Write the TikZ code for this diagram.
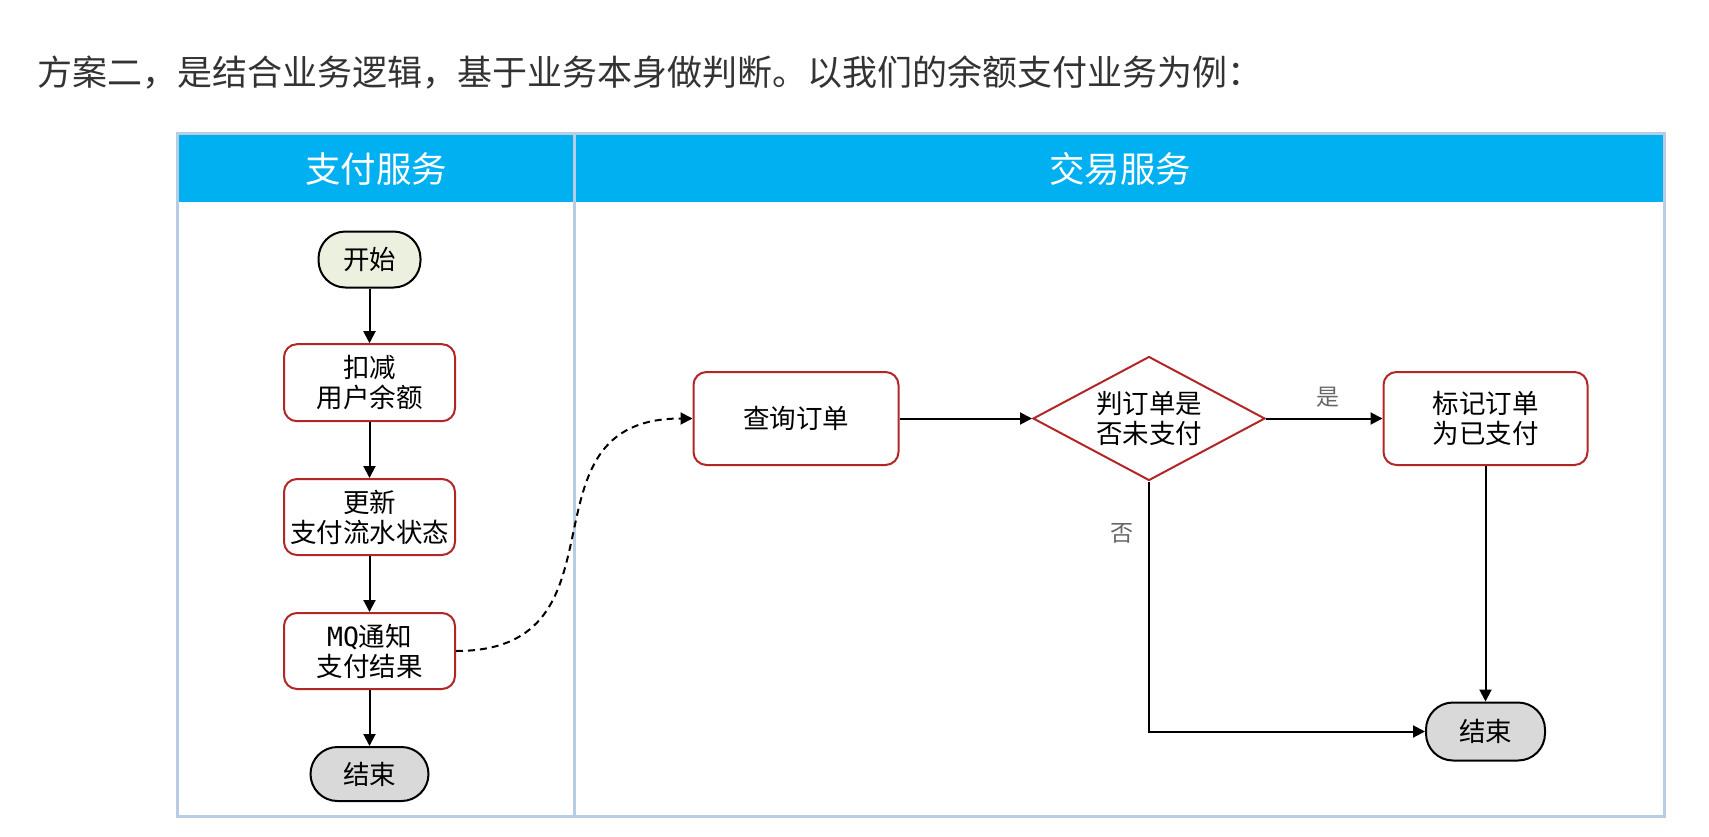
\documentclass[tikz,border=0pt]{standalone}
\usepackage{fontspec}
\setmainfont{Noto Sans CJK SC}
\newfontfamily\mqfont{DejaVu Sans Mono}
\usetikzlibrary{arrows.meta,positioning,shapes.geometric}
\definecolor{laneblue}{RGB}{184,204,228}
\definecolor{headcyan}{RGB}{0,176,240}
\definecolor{boxred}{RGB}{178,38,38}
\definecolor{startfill}{RGB}{236,240,223}
\definecolor{endfill}{RGB}{217,217,217}
\definecolor{titlegray}{RGB}{51,51,51}
\definecolor{labelgray}{RGB}{102,102,102}
\tikzset{
  stepbox/.style={draw=boxred, line width=2pt, rounded corners=13pt, fill=white,
    align=center, inner sep=0pt, font=\fontsize{26.5}{30}\selectfont},
  termbox/.style={draw=black, line width=2pt, rounded corners=27pt, inner sep=0pt,
    font=\fontsize{26.5}{30}\selectfont},
  flowarrow/.style={line width=2pt, -{Triangle[length=12pt,width=12pt]}},
  edgelabel/.style={text=labelgray, inner sep=0pt, font=\fontsize{23}{26}\selectfont}
}
\begin{document}
\begin{tikzpicture}[x=1pt, y=-1pt]
  \useasboundingbox (0,0) rectangle (1709,836);
  % title
  \node[anchor=west, inner sep=0pt, text=titlegray, font=\fontsize{35}{40}\selectfont] (title) at (37,72)
    {方案二，是结合业务逻辑，基于业务本身做判断。以我们的余额支付业务为例：};
  % lanes
  \fill[headcyan] (177,133) rectangle (1664,202);
  \draw[laneblue, line width=3pt] (177,133) rectangle (1664,816.5);
  \draw[laneblue, line width=3pt] (574,133) -- (574,816.5);
  \node[text=white, font=\fontsize{35.5}{40}\selectfont] (paylane) at (376,169) {支付服务};
  \node[text=white, font=\fontsize{35.5}{40}\selectfont] (tradelane) at (1120,169) {交易服务};
  % payment service
  \node[termbox, fill=startfill, minimum width=102pt, minimum height=56pt] (start) at (369.5,259.5) {开始};
  \node[stepbox, minimum width=171pt, minimum height=77pt, below=54.7pt of start] (deduct) {扣减\\用户余额};
  \node[stepbox, minimum width=171pt, minimum height=76pt, below=55.8pt of deduct] (update) {更新\\支付流水状态};
  \node[stepbox, minimum width=171pt, minimum height=76pt, below=56pt of update] (notify) {{\mqfont MQ}通知\\支付结果};
  \node[termbox, fill=endfill, minimum width=118pt, minimum height=54pt, below=56pt of notify] (payend) {结束};
  % trade service
  \node[stepbox, minimum width=205pt, minimum height=93pt] (query) at (796,418.5) {查询订单};
  \node[diamond, draw=boxred, line width=2pt, fill=white, aspect=1.87, inner sep=0pt,
    minimum width=232pt, minimum height=124pt, align=center,
    font=\fontsize{26.5}{30}\selectfont, right=132.5pt of query] (check) {判订单是\\否未支付};
  \node[stepbox, minimum width=204pt, minimum height=93pt, right=116.5pt of check] (mark) {标记订单\\为已支付};
  \node[termbox, fill=endfill, minimum width=119pt, minimum height=58pt, below=235.5pt of mark] (tradeend) {结束};
  % connectors
  \draw[flowarrow] (start) -- (deduct);
  \draw[flowarrow] (deduct) -- (update);
  \draw[flowarrow] (update) -- (notify);
  \draw[flowarrow] (notify) -- (payend);
  \draw[flowarrow, dash pattern=on 7pt off 5pt] (notify.east) to[out=0, in=180, looseness=1.4] (query.west);
  \draw[flowarrow] (query) -- (check);
  \draw[flowarrow] (check) -- node[pos=.53, above=10pt, edgelabel] (yes) {是} (mark);
  \draw[flowarrow] (check.south) |- node[pos=.104, left=15pt, edgelabel] (no) {否} (tradeend.west);
  \draw[flowarrow] (mark) -- (tradeend);
\end{tikzpicture}
\end{document}
